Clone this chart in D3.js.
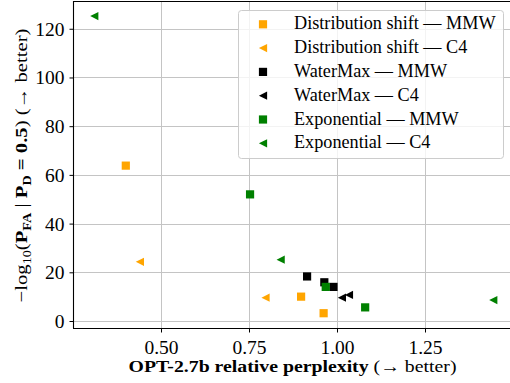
<!DOCTYPE html>
<html>
<head>
<meta charset="utf-8">
<script src="https://cdn.jsdelivr.net/npm/d3@7"></script>
<style>
  html, body { margin: 0; padding: 0; background: #fff; }
  svg { display: block; }
  text { font-family: "Liberation Serif", "DejaVu Serif", serif; fill: #000; }
</style>
</head>
<body>
<svg id="chart" width="510" height="383"></svg>
<script>
// Relative perplexity (x) vs. -log10(P_FA | P_D = 0.5) (y) for each method / dataset
const seriesNames = [
  "Distribution shift — MMW",
  "Distribution shift — C4",
  "WaterMax — MMW",
  "WaterMax — C4",
  "Exponential — MMW",
  "Exponential — C4"
];
const seriesColors = ["#FFA500", "#FFA500", "#000000", "#000000", "#008000", "#008000"];
const seriesShapes = ["square", "triangle", "square", "triangle", "square", "triangle"];

const distShiftMMW = [[0.400, 63.8], [0.898, 10.0], [0.962, 3.2]];
const distShiftC4 = [[0.440, 24.3], [0.797, 9.6]];
const waterMaxMMW = [[0.915, 18.3], [0.964, 15.9], [0.990, 14.0]];
const waterMaxC4 = [[1.014, 9.6], [1.034, 10.7]];
const exponentialMMW = [[0.753, 52.0], [0.968, 14.0], [1.080, 5.6]];
const exponentialC4 = [[0.3105, 125.2], [0.840, 25.2], [1.444, 8.6]];

const seriesData = [distShiftMMW, distShiftC4, waterMaxMMW, waterMaxC4, exponentialMMW, exponentialC4];

const xTicks = [0.50, 0.75, 1.00, 1.25];
const yTicks = [0, 20, 40, 60, 80, 100, 120];

const svg = d3.select("#chart");
const plotL = 73, plotR = 513, plotT = 1, plotB = 328;

const x = d3.scaleLinear().domain([0.25, 1.5]).range([plotL, plotR]);
const y = d3.scaleLinear().domain([-2.87, 131.4]).range([plotB, plotT]);

// grid
const grid = svg.append("g").attr("stroke", "#c4c4c4").attr("stroke-width", 1);
grid.selectAll(".gx").data(xTicks).join("line")
  .attr("x1", d => Math.round(x(d)) + 0.5).attr("x2", d => Math.round(x(d)) + 0.5)
  .attr("y1", plotT).attr("y2", plotB);
grid.selectAll(".gy").data(yTicks).join("line")
  .attr("y1", d => Math.round(y(d)) + 0.5).attr("y2", d => Math.round(y(d)) + 0.5)
  .attr("x1", plotL).attr("x2", plotR);

// axes
const xAxis = d3.axisBottom(x).tickValues(xTicks).tickFormat(d3.format(".2f"))
  .tickSizeInner(4).tickSizeOuter(0).tickPadding(6);
const yAxis = d3.axisLeft(y).tickValues(yTicks).tickFormat(d3.format("d"))
  .tickSizeInner(4).tickSizeOuter(0).tickPadding(5);

const gx = svg.append("g").attr("transform", `translate(0,${plotB + 0.5})`).call(xAxis);
const gy = svg.append("g").attr("transform", `translate(${plotL + 0.5},0)`).call(yAxis);
[gx, gy].forEach(g => {
  g.select(".domain").remove();
  g.selectAll(".tick line").attr("stroke", "#000").attr("stroke-width", 1);
  g.selectAll(".tick text").attr("font-size", 19.5).attr("font-family", "Liberation Serif").attr("fill", "#000");
});
gx.selectAll(".tick text").attr("dy", "0.78em");
gy.selectAll(".tick text").attr("dy", "0.33em");

// spines
const sp = svg.append("g").attr("stroke", "#000").attr("stroke-width", 1.1).attr("fill", "none");
sp.append("line").attr("x1", plotL + 0.5).attr("x2", plotL + 0.5).attr("y1", plotT).attr("y2", plotB + 0.5);
sp.append("line").attr("x1", plotL).attr("x2", plotR).attr("y1", plotB + 0.5).attr("y2", plotB + 0.5);
sp.append("line").attr("x1", plotL).attr("x2", plotR).attr("y1", plotT + 0.5).attr("y2", plotT + 0.5);

// marker shapes
const ms = 8.2;
function markerPath(shape, cx, cy, s) {
  const h = s / 2;
  if (shape === "square") {
    return `M${cx - h},${cy - h}H${cx + h}V${cy + h}H${cx - h}Z`;
  }
  return `M${cx - h},${cy}L${cx + h},${cy - h}L${cx + h},${cy + h}Z`;
}

const marks = svg.append("g");
seriesData.forEach((pts, i) => {
  marks.append("g").selectAll("path").data(pts).join("path")
    .attr("d", d => markerPath(seriesShapes[i], x(d[0]), y(d[1]), ms))
    .attr("fill", seriesColors[i]);
});

// legend
const lg = svg.append("g");
lg.append("rect")
  .attr("x", 238.5).attr("y", 10.5).attr("width", 265).attr("height", 148)
  .attr("rx", 3).attr("fill", "#fff").attr("fill-opacity", 0.8)
  .attr("stroke", "#cccccc").attr("stroke-width", 1);
seriesNames.forEach((name, i) => {
  const cy = 24.3 + i * 23.8;
  lg.append("path").attr("d", markerPath(seriesShapes[i], 263, cy, ms)).attr("fill", seriesColors[i]);
  lg.append("text").attr("x", 294).attr("y", cy + 5).attr("font-size", 18.2).text(name);
});

// x label (stretched to the width of the extended bold face)
const xl = svg.append("text").attr("x", 292.5).attr("y", 372).attr("text-anchor", "middle")
  .attr("font-size", 17.5).attr("textLength", 328).attr("lengthAdjust", "spacingAndGlyphs");
xl.append("tspan").attr("font-weight", "bold").text("OPT-2.7b relative perplexity ");
xl.append("tspan").text("(→ better)");

// y label
const yl = svg.append("text")
  .attr("transform", "translate(27,165.5) rotate(-90)")
  .attr("text-anchor", "middle").attr("font-size", 17.5)
  .attr("textLength", 274).attr("lengthAdjust", "spacingAndGlyphs");
yl.append("tspan").text("−log");
yl.append("tspan").attr("font-size", 12).attr("dy", 4).text("10");
yl.append("tspan").attr("dy", -4).text("(");
yl.append("tspan").attr("font-weight", "bold").text("P");
yl.append("tspan").attr("font-weight", "bold").attr("font-size", 12).attr("dy", 4).text("FA");
yl.append("tspan").attr("dy", -4).text(" | ");
yl.append("tspan").attr("font-weight", "bold").text("P");
yl.append("tspan").attr("font-weight", "bold").attr("font-size", 12).attr("dy", 4).text("D");
yl.append("tspan").attr("font-weight", "bold").attr("dy", -4).text(" = 0.5");
yl.append("tspan").text(") (→ better)");
</script>
</body>
</html>
